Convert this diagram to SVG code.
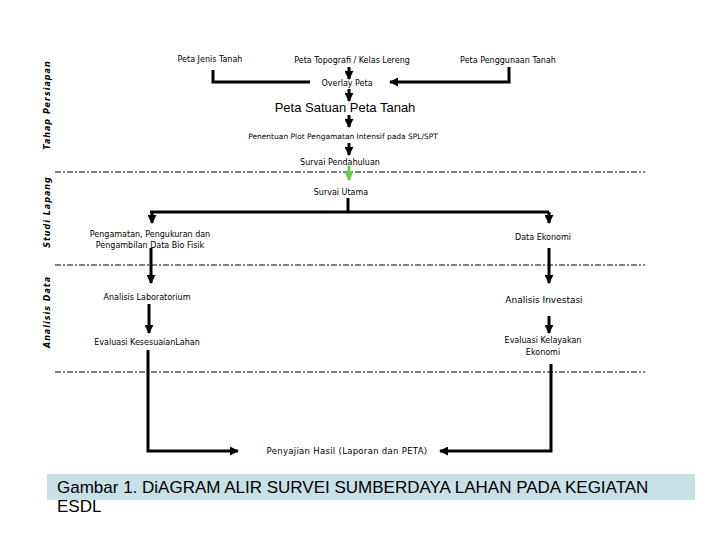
<svg xmlns="http://www.w3.org/2000/svg" width="720" height="540" viewBox="0 0 720 540">
<style>
text{font-family:"DejaVu Sans",sans-serif;font-size:8px;fill:#000;text-anchor:middle}
.side{font-size:8px;font-weight:bold;font-style:italic;letter-spacing:1px}
.ln{stroke:#000;stroke-width:3;fill:none}
.dash{stroke:#000;stroke-width:1;stroke-dasharray:6 2 2 2;fill:none}
.cap{font-family:"Liberation Sans",sans-serif;font-size:17px;text-anchor:start}
</style>
<defs>
<marker id="ah" viewBox="0 0 10 10" refX="9" refY="5" markerWidth="3" markerHeight="3" orient="auto"><path d="M0 0L10 5L0 10z" fill="#000"/></marker>
<marker id="ag" viewBox="0 0 10 10" refX="9" refY="5" markerWidth="3" markerHeight="3" orient="auto"><path d="M0 0L10 5L0 10z" fill="#66cc44"/></marker>
</defs>
<rect width="720" height="540" fill="#fff"/>
<text class="side" transform="translate(50,105) rotate(-90)">Tahap Persiapan</text>
<text class="side" transform="translate(50,212) rotate(-90)">Studi Lapang</text>
<text class="side" transform="translate(50,312) rotate(-90)">Analisis Data</text>
<g id="connectors">
<path class="dash" d="M55 172H645M55 265H645M55 372H645"/>
<path class="ln" d="M213 70V82H310"/>
<path class="ln" d="M509 67V82H390" marker-end="url(#ah)"/>
<path class="ln" d="M349 67V79" marker-end="url(#ah)"/>
<path class="ln" d="M349 89V101" marker-end="url(#ah)"/>
<path class="ln" d="M349 115V127" marker-end="url(#ah)"/>
<path class="ln" d="M349 143V155" marker-end="url(#ah)"/>
<path d="M349 166V180" stroke="#66cc44" stroke-width="3" marker-end="url(#ag)"/>
<path class="ln" d="M348 198V212"/>
<path class="ln" d="M150 212H549"/>
<path class="ln" d="M152 212V223" marker-end="url(#ah)"/>
<path class="ln" d="M549 212V223" marker-end="url(#ah)"/>
<path class="ln" d="M151 248V283" marker-end="url(#ah)"/>
<path class="ln" d="M549 248V283" marker-end="url(#ah)"/>
<path class="ln" d="M149 304V333" marker-end="url(#ah)"/>
<path class="ln" d="M549 316V333" marker-end="url(#ah)"/>
<path class="ln" d="M148 350V451H238" marker-end="url(#ah)"/>
<path class="ln" d="M551 364V451H440" marker-end="url(#ah)"/>
</g>
<g id="n1"><text x="210" y="62">Peta Jenis Tanah</text></g>
<g id="n2"><text x="352" y="63">Peta Topografi / Kelas Lereng</text></g>
<g id="n3"><text x="508" y="63">Peta Penggunaan Tanah</text></g>
<g id="n4"><text x="347" y="86">Overlay Peta</text></g>
<g id="n5"><text x="345" y="112" style="font-family:'Liberation Sans',sans-serif;font-size:13px">Peta Satuan Peta Tanah</text></g>
<g id="n6"><text x="343" y="139" style="font-size:7.5px">Penentuan Plot Pengamatan Intensif pada SPL/SPT</text></g>
<g id="n7"><text x="340" y="165">Survai Pendahuluan</text></g>
<g id="n8"><text x="341" y="195">Survai Utama</text></g>
<g id="n9"><text x="150" y="237">Pengamatan, Pengukuran dan</text><text x="150" y="248">Pengambilan Data Bio Fisik</text></g>
<g id="n10"><text x="543" y="240">Data Ekonomi</text></g>
<g id="n11"><text x="147" y="300">Analisis Laboratorium</text></g>
<g id="n12"><text x="544" y="303" style="font-size:9px">Analisis Investasi</text></g>
<g id="n13"><text x="147" y="345">Evaluasi KesesuaianLahan</text></g>
<g id="n14"><text x="543" y="343">Evaluasi Kelayakan</text><text x="543" y="355">Ekonomi</text></g>
<g id="n15"><text x="347" y="454" style="font-size:8.5px;letter-spacing:0.3px">Penyajian Hasil (Laporan dan PETA)</text></g>
<g id="caption">
<rect x="47" y="474" width="648" height="26" fill="#c8e1e6"/>
<text class="cap" x="57" y="493">Gambar  1. DiAGRAM ALIR  SURVEI SUMBERDAYA LAHAN PADA KEGIATAN</text>
<text class="cap" x="57" y="512">ESDL</text>
</g>
</svg>
